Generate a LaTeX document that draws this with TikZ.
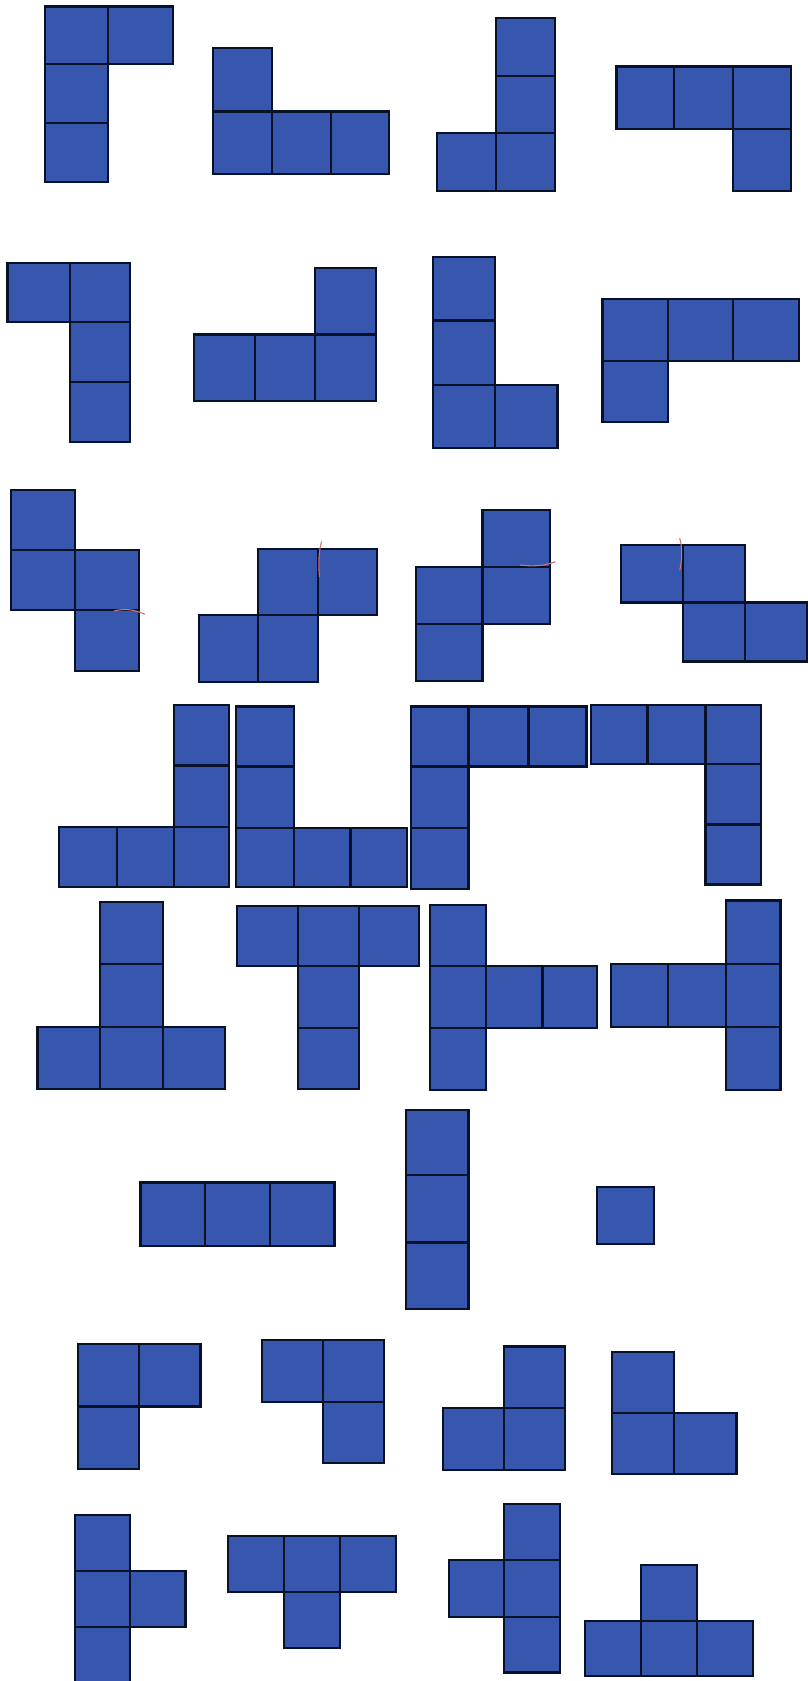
\documentclass[tikz,border=0pt]{standalone}
\definecolor{tileblue}{HTML}{3757AE}
\definecolor{tileedge}{HTML}{081226}
\definecolor{markred}{HTML}{D87070}
\tikzset{
  cell/.style={fill=tileblue, draw=tileedge, line width=1pt},
  redmark/.style={draw=markred, line width=0.5pt}
}
\newcommand{\cellbox}[4]{\draw[cell] (#1,#2) rectangle (#3,#4);}
\begin{document}
\begin{tikzpicture}[x=0.5pt,y=-0.5pt]
\fill[white] (0,0) rectangle (753,1568);
\useasboundingbox (0,0) rectangle (753,1568);
% Row 1
\cellbox{42}{6}{101}{60}\cellbox{101}{6}{161}{60}\cellbox{42}{60}{101}{115}\cellbox{42}{115}{101}{170}
\cellbox{199}{45}{254}{104}\cellbox{199}{104}{254}{162}\cellbox{254}{104}{309}{162}\cellbox{309}{104}{363}{162}
\cellbox{463}{17}{518}{71}\cellbox{463}{71}{518}{124}\cellbox{463}{124}{518}{178}\cellbox{408}{124}{463}{178}
\cellbox{575}{62}{629}{120}\cellbox{629}{62}{684}{120}\cellbox{684}{62}{738}{120}\cellbox{684}{120}{738}{178}
% Row 2
\cellbox{7}{245}{65}{300}\cellbox{65}{245}{121}{300}\cellbox{65}{300}{121}{356}\cellbox{65}{356}{121}{412}
\cellbox{294}{250}{351}{312}\cellbox{181}{312}{238}{374}\cellbox{238}{312}{294}{374}\cellbox{294}{312}{351}{374}
\cellbox{404}{240}{462}{299}\cellbox{404}{299}{462}{359}\cellbox{404}{359}{462}{418}\cellbox{462}{359}{520}{418}
\cellbox{562}{279}{623}{337}\cellbox{623}{279}{684}{337}\cellbox{684}{279}{745}{337}\cellbox{562}{337}{623}{394}
% Row 3
\cellbox{10}{457}{70}{513}\cellbox{10}{513}{70}{569}\cellbox{70}{513}{130}{569}\cellbox{70}{569}{130}{626}
\cellbox{241}{512}{297}{574}\cellbox{297}{512}{352}{574}\cellbox{186}{574}{241}{636}\cellbox{241}{574}{297}{636}
\cellbox{450}{476}{513}{529}\cellbox{388}{529}{450}{582}\cellbox{450}{529}{513}{582}\cellbox{388}{582}{450}{635}
\cellbox{579}{508}{637}{562}\cellbox{637}{508}{695}{562}\cellbox{637}{562}{695}{617}\cellbox{695}{562}{753}{617}
\draw[redmark] (106,570) .. controls (118,567) and (126,569) .. (135,573);
\draw[redmark] (300,505) .. controls (297,515) and (297,528) .. (298,538);
\draw[redmark] (485,527) .. controls (500,529) and (510,527) .. (518,524);
\draw[redmark] (634,502) .. controls (637,512) and (636,524) .. (634,532);
% Row 4
\cellbox{162}{658}{214}{714}\cellbox{162}{714}{214}{771}\cellbox{55}{771}{109}{827}\cellbox{109}{771}{162}{827}\cellbox{162}{771}{214}{827}
\cellbox{220}{659}{274}{715}\cellbox{220}{715}{274}{772}\cellbox{220}{772}{274}{827}\cellbox{274}{772}{327}{827}\cellbox{327}{772}{380}{827}
\cellbox{383}{659}{437}{715}\cellbox{437}{659}{493}{715}\cellbox{493}{659}{547}{715}\cellbox{383}{715}{437}{772}\cellbox{383}{772}{437}{829}
\cellbox{551}{658}{604}{713}\cellbox{604}{658}{658}{713}\cellbox{658}{658}{710}{713}\cellbox{658}{713}{710}{769}\cellbox{658}{769}{710}{825}
% Row 5
\cellbox{93}{841}{152}{899}\cellbox{93}{899}{152}{958}\cellbox{35}{958}{93}{1016}\cellbox{93}{958}{152}{1016}\cellbox{152}{958}{210}{1016}
\cellbox{221}{845}{278}{901}\cellbox{278}{845}{335}{901}\cellbox{335}{845}{391}{901}\cellbox{278}{901}{335}{959}\cellbox{278}{959}{335}{1016}
\cellbox{401}{844}{453}{901}\cellbox{401}{901}{453}{959}\cellbox{453}{901}{506}{959}\cellbox{506}{901}{557}{959}\cellbox{401}{959}{453}{1017}
\cellbox{677}{840}{728}{899}\cellbox{570}{899}{623}{958}\cellbox{623}{899}{677}{958}\cellbox{677}{899}{728}{958}\cellbox{677}{958}{728}{1017}
% Row 6
\cellbox{131}{1103}{191}{1162}\cellbox{191}{1103}{252}{1162}\cellbox{252}{1103}{312}{1162}
\cellbox{379}{1035}{437}{1096}\cellbox{379}{1096}{437}{1159}\cellbox{379}{1159}{437}{1221}
\cellbox{557}{1107}{610}{1160}
% Row 7
\cellbox{73}{1254}{130}{1312}\cellbox{130}{1254}{187}{1312}\cellbox{73}{1312}{130}{1370}
\cellbox{244}{1250}{301}{1308}\cellbox{301}{1250}{358}{1308}\cellbox{301}{1308}{358}{1365}
\cellbox{470}{1256}{527}{1313}\cellbox{413}{1313}{470}{1371}\cellbox{470}{1313}{527}{1371}
\cellbox{571}{1261}{629}{1318}\cellbox{571}{1318}{629}{1375}\cellbox{629}{1318}{687}{1375}
% Row 8
\cellbox{70}{1413}{121}{1465}\cellbox{70}{1465}{121}{1518}\cellbox{121}{1465}{173}{1518}\cellbox{70}{1518}{121}{1572}
\cellbox{213}{1433}{265}{1485}\cellbox{265}{1433}{317}{1485}\cellbox{317}{1433}{369}{1485}\cellbox{265}{1485}{317}{1537}
\cellbox{470}{1403}{522}{1455}\cellbox{419}{1455}{470}{1508}\cellbox{470}{1455}{522}{1508}\cellbox{470}{1508}{522}{1560}
\cellbox{598}{1460}{650}{1512}\cellbox{546}{1512}{598}{1563}\cellbox{598}{1512}{650}{1563}\cellbox{650}{1512}{702}{1563}
\end{tikzpicture}
\end{document}
